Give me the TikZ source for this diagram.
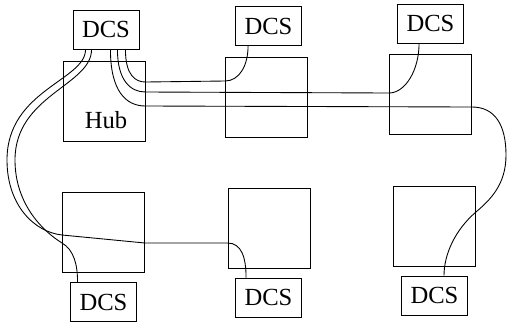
\documentclass[tikz,border=0pt]{standalone}
\usepackage{fontspec}
\setmainfont{Liberation Serif}
\usepackage{tikz}
\usetikzlibrary{calc}

\begin{document}
\begin{tikzpicture}[x=0.03cm, y=-0.03cm, line width=0.75pt,
    unit/.style={draw, minimum width=2.46cm, minimum height=2.4cm, inner sep=0pt},
    dcs/.style={draw, minimum width=1.98cm, minimum height=1.17cm, inner sep=0pt,
      font=\fontsize{21}{25}\selectfont},
    link/.style={draw, line width=0.75pt}]
  \useasboundingbox (0,0) rectangle (507,325);

  \node[unit] (hub)  at (104,101)   {};
  \node[unit] (boxB) at (266.5,97)  {};
  \node[unit] (boxC) at (430.5,94)  {};
  \node[unit] (boxD) at (103.5,232) {};
  \node[unit] (boxE) at (269,228)   {};
  \node[unit] (boxF) at (434.5,226) {};
  \node[font=\fontsize{21}{25}\selectfont] (hubLabel) at (106,120) {Hub};

  \node[dcs] (dcsHub) at (106,29.5)   {DCS};
  \node[dcs] (dcsB)   at (268.5,26)   {DCS};
  \node[dcs] (dcsC)   at (430.5,23.5) {DCS};
  \node[dcs] (dcsD)   at (103.5,302)  {DCS};
  \node[dcs] (dcsE)   at (268.5,297.5) {DCS};
  \node[dcs] (dcsF)   at (434.5,295.5) {DCS};

  % ring round the left side
  \draw[link] ($(dcsHub.south west)+(13,0)$) .. controls +(0,31) and +(0,-70) .. (7,160)
    .. controls +(0,45) and +(-28,-3) .. ($(boxD.west)+(0,3)$)
    -- ($(boxD.east)+(0,11)$) -- ($(boxE.west)+(0,15)$)
    .. controls +(14,0) and +(0,-20) .. ($(dcsE.north west)+(11,0)$);
  \draw[link] ($(dcsHub.south west)+(19,0)$) .. controls +(0,36) and +(0,-65) .. (15,160)
    .. controls +(0,45) and +(-18,-11) .. ($(boxD.west)+(0,11)$)
    .. controls +(12,7) and +(0,-17) .. ($(dcsD.north west)+(7.5,0)$);

  % ring round the right side
  \draw[link] ($(dcsHub.south east)+(-14,0)$) .. controls +(0,26) and +(-10,0) .. ($(hub.east)+(0,-19)$)
    -- ($(boxB.west)+(0,-16)$)
    .. controls +(14,0) and +(0,20) .. ($(dcsB.south west)+(13,0)$);
  \draw[link] ($(dcsHub.south east)+(-22,0)$) .. controls +(0,31) and +(-15,0) .. ($(hub.east)+(0,-9)$)
    -- ($(boxC.west)+(0,-1)$)
    .. controls +(16,0) and +(0,27) .. ($(dcsC.south west)+(22,0)$);
  \draw[link] ($(dcsHub.south east)+(-29,0)$) .. controls +(0,41) and +(-20,0) .. ($(hub.east)+(0,5)$)
    -- ($(boxC.east)+(0,13)$)
    .. controls +(23,0) and +(0,-30) .. (506,155)
    .. controls +(0,30) and +(14,-12) .. ($(boxF.east)+(0,-14)$)
    .. controls +(-21,18) and +(0,-21) .. ($(dcsF.north)+(9.5,0)$);
\end{tikzpicture}
\end{document}
